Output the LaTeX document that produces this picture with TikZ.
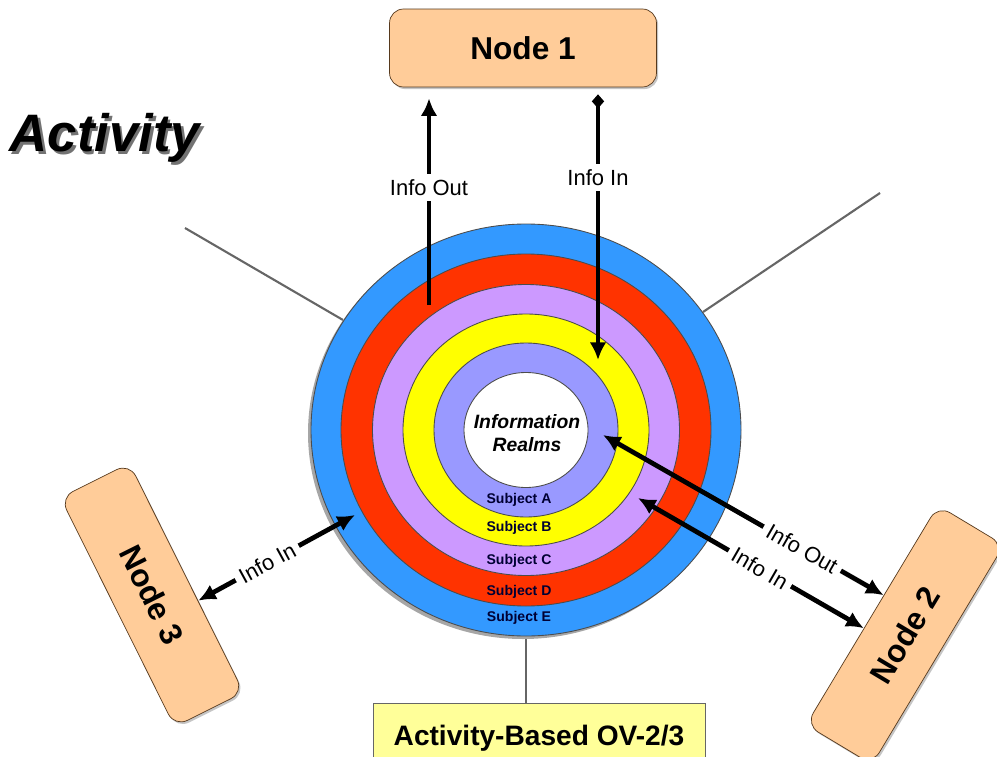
\documentclass[tikz,border=0pt]{standalone}
\usepackage{fontspec}
\setmainfont{Liberation Sans}
\usetikzlibrary{arrows.meta, calc, shadows}

\definecolor{ringE}{HTML}{3399FF}
\definecolor{ringD}{HTML}{FF3300}
\definecolor{ringC}{HTML}{CC99FF}
\definecolor{ringB}{HTML}{FFFF00}
\definecolor{ringA}{HTML}{9999FF}
\definecolor{nodefill}{HTML}{FFCC99}
\definecolor{notefill}{HTML}{FFFF99}

\tikzset{
  realm/.style={draw=black!70, line width=0.5pt},
  nodebox/.style={draw=black!55!brown, fill=nodefill, rounded corners=8pt,
    drop shadow={shadow xshift=1pt, shadow yshift=-1.2pt, fill=black!45},
    font=\fontsize{18}{20}\selectfont\bfseries},
  notebox/.style={draw=black!60, fill=notefill, minimum width=6.64cm, minimum height=1.4cm,
    font=\fontsize{16}{18}\selectfont\bfseries},
  flow/.style={line width=2.7pt, -{Latex[length=10pt,width=9.5pt]}},
  flowboth/.style={line width=2.7pt, {Latex[length=10pt,width=9.5pt]}-{Latex[length=10pt,width=9.5pt]}},
  flowlbl/.style={fill=white, inner sep=3pt, font=\fontsize{12.5}{14}\selectfont},
  subj/.style={font=\fontsize{8}{9}\selectfont\bfseries, text=black!80!blue},
  spoke/.style={draw=gray!80!black, line width=1.2pt}
}

\begin{document}
\begin{tikzpicture}[x=0.02cm, y=-0.02cm]
\useasboundingbox (0,0) rectangle (997,757);
\clip (0,0) rectangle (997,757);

% title with shadow
\node[font=\fontsize{30}{32}\selectfont\bfseries\itshape, text=black!55] (actshadow) at (107.5,140.5) {Activity};
\node[font=\fontsize{30}{32}\selectfont\bfseries\itshape] (act) at (105,138) {Activity};

% boxes
\node[nodebox, minimum width=5.34cm, minimum height=1.56cm] (n1) at (523,48) {Node 1};
\node[nodebox, minimum width=5.12cm, minimum height=1.54cm, rotate=59] (n2) at (905,635) {Node 2};
\node[nodebox, minimum width=5.12cm, minimum height=1.54cm, rotate=-63.5] (n3) at (152,595) {Node 3};
\node[notebox, anchor=north] (ov) at (539,703) {Activity-Based OV-2/3};

% spokes
\coordinate (c) at (526,430);
\coordinate (spUL) at (185,228);
\coordinate (rUL) at (343,320);
\coordinate (spUR) at (880,193);
\coordinate (rUR) at (703,312);
\coordinate (rB) at (526,637);
\draw[spoke] (spUL) -- (rUL);
\draw[spoke] (spUR) -- (rUR);
\draw[spoke] (rB) -- (rB |- ov.north);

% realms
\fill[gray!70] (523,433) ellipse [x radius=215, y radius=206];
\foreach \rx/\ry/\col in {215/206/ringE, 185/176/ringD, 153.5/145.5/ringC, 123/116/ringB, 92/87/ringA, 62/57.5/white}
  \draw[realm, fill=\col] (c) ellipse [x radius=\rx, y radius=\ry];

\node[align=center, font=\fontsize{11}{13}\selectfont\bfseries\itshape] (info) at (527,433) {Information\\Realms};
\foreach \y/\s in {500/A, 528/B, 561/C, 592/D, 618/E}
  \node[subj] (s\s) at (519,\y) {Subject \s};

% info flows
\coordinate (outA) at (429,305);
\coordinate (inA) at (598,360);
\coordinate (outB) at (603,435);
\coordinate (inB) at (638,498);
\coordinate (inC) at (355,515);

\draw[flow, shorten >=0.22cm] (outA) -- (outA |- n1.south) node[flowlbl, pos=0.54] {Info Out};
\draw[flow, {Diamond[length=8pt,width=7pt]}-{Latex[length=10pt,width=9.5pt]}, shorten <=0.14cm]
  (inA |- n1.south) -- (inA) node[flowlbl, pos=0.33] {Info In};
\draw[flowboth] (outB) -- ($(n2.north west)!0.59!(n2.north east)$) node[flowlbl, sloped, pos=0.71] {Info Out};
\draw[flowboth] (inB) -- ($(n2.north west)!0.44!(n2.north east)$) node[flowlbl, sloped, pos=0.54] {Info In};
\draw[flowboth] (inC) -- ($(n3.north west)!0.6!(n3.north east)$) node[flowlbl, sloped, pos=0.56] {Info In};
\end{tikzpicture}
\end{document}
